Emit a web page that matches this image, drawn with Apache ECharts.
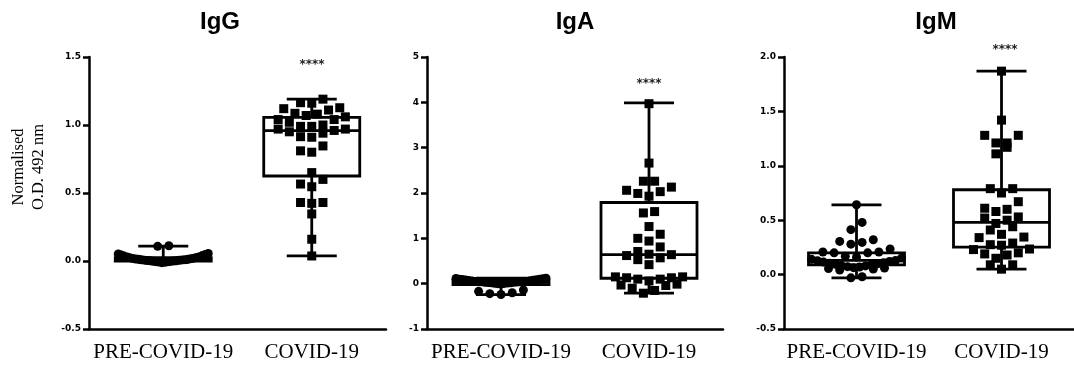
<!DOCTYPE html>
<html>
<head>
<meta charset="utf-8">
<script src="https://cdn.jsdelivr.net/npm/echarts@6/dist/echarts.min.js"></script>
<style>html,body{margin:0;padding:0;background:#fff}#c{width:1074px;height:370px}</style>
</head>
<body>
<div id="c"></div>
<script>
// ---------- DATA ----------
const categories = ['PRE-COVID-19', 'COVID-19'];
const panelTitles = ['IgG', 'IgA', 'IgM'];
const yAxisName = 'Normalised\nO.D. 492 nm';
const sigLabel = '****';

// axis ranges [min, max, interval]
const igG_axis = [-0.5, 1.5, 0.5];
const igA_axis = [-1, 5, 1];
const igM_axis = [-0.5, 2.0, 0.5];

// box stats [min, Q1, median, Q3, max]
const igG_pre_box = [-0.012, 0.0, 0.01, 0.025, 0.11];
const igG_covid_box = [0.037, 0.625, 0.958, 1.056, 1.19];
const igA_pre_box = [-0.24, -0.02, 0.03, 0.07, 0.12];
const igA_covid_box = [-0.21, 0.12, 0.64, 1.79, 3.99];
const igM_pre_box = [-0.03, 0.09, 0.13, 0.2, 0.64];
const igM_covid_box = [0.05, 0.253, 0.48, 0.78, 1.87];

// individual values
const igG_pre = [-0.012, -0.01, -0.008, -0.006, -0.005, -0.003, -0.002, 0.0, 0.001, 0.002, 0.004, 0.005,
  0.006, 0.008, 0.009, 0.01, 0.012, 0.013, 0.015, 0.017, 0.019, 0.021, 0.023, 0.026, 0.029, 0.032,
  0.036, 0.04, 0.044, 0.048, 0.052, 0.055, 0.112, 0.108];
const igG_covid = [1.164, 1.127, 1.11, 1.12, 1.16, 1.19, 1.086, 1.07, 1.04, 1.02, 1.0, 1.04, 1.06, 1.08,
  0.99, 0.97, 0.96, 0.94, 0.91, 0.914, 0.95, 0.97, 0.99, 0.846, 0.81, 0.80, 0.65, 0.60, 0.566, 0.546,
  0.43, 0.424, 0.43, 0.346, 0.16, 0.037];
const igA_pre = [-0.24, -0.22, -0.2, -0.17, -0.14, -0.01, 0.0, 0.005, 0.01, 0.015, 0.02, 0.02, 0.025, 0.03,
  0.03, 0.035, 0.04, 0.04, 0.045, 0.05, 0.05, 0.055, 0.06, 0.065, 0.07, 0.075, 0.08, 0.085, 0.09, 0.095,
  0.1, 0.11, 0.115, 0.12];
const igA_covid = [3.97, 2.66, 2.26, 2.26, 2.13, 2.03, 1.93, 1.99, 2.06, 1.59, 1.56, 1.26, 1.0, 1.09, 0.94,
  0.81, 0.64, 0.57, 0.71, 0.53, 0.62, 0.65, 0.42, 0.06, 0.13, 0.15, 0.10, 0.10, 0.15, 0.13, -0.03, -0.10,
  -0.21, -0.15, -0.04, -0.01];
const igM_pre = [0.642, 0.48, 0.413, 0.32, 0.305, 0.296, 0.28, 0.236, 0.208, 0.208, 0.2, 0.2, 0.168,
  -0.03, -0.02, 0.042, 0.051, 0.055, 0.06, 0.064, 0.07, 0.073, 0.08, 0.083, 0.09, 0.094, 0.1, 0.104, 0.11,
  0.115, 0.12, 0.127, 0.13, 0.14, 0.152, 0.16];
const igM_covid = [1.87, 1.42, 1.28, 1.28, 1.21, 1.21, 1.17, 1.11, 0.79, 0.75, 0.79, 0.67, 0.61, 0.58, 0.60,
  0.53, 0.50, 0.52, 0.44, 0.47, 0.37, 0.34, 0.345, 0.41, 0.29, 0.27, 0.275, 0.23, 0.235, 0.19, 0.18, 0.2,
  0.15, 0.09, 0.05, 0.09];

// ---------- LAYOUT ----------
const GRIDS = [
  {left: 89, top: 57, width: 297, height: 272},
  {left: 427, top: 57, width: 296, height: 272},
  {left: 784, top: 57, width: 294, height: 272}
];
const TITLE_X = [220, 575, 936];
const BOX_W = 96, CAP_W = 50, SYM = 9, STEP = 11.2, BIN = 10, MAXSPAN = 90;

const panels = [
  {axis: igG_axis, pre: igG_pre, covid: igG_covid, boxes: [igG_pre_box, igG_covid_box], dec: 1},
  {axis: igA_axis, pre: igA_pre, covid: igA_covid, boxes: [igA_pre_box, igA_covid_box], dec: 0},
  {axis: igM_axis, pre: igM_pre, covid: igM_covid, boxes: [igM_pre_box, igM_covid_box], dec: 1}
];

// Prism-like column scatter layout: bin by value, spread center-out
function swarm(vals, ppu) {
  const idx = vals.map((v, i) => i).sort((a, b) => vals[a] - vals[b]);
  const off = new Array(vals.length).fill(0);
  let i = 0;
  while (i < idx.length) {
    const start = vals[idx[i]];
    let j = i;
    while (j < idx.length && (vals[idx[j]] - start) * ppu < BIN) j++;
    const row = idx.slice(i, j), n = row.length;
    let step = STEP;
    if (n > 1 && (n - 1) * step > MAXSPAN) step = MAXSPAN / (n - 1);
    row.forEach((id, k) => {
      let slot;
      if (n % 2 === 1) slot = k === 0 ? 0 : (k % 2 === 1 ? -Math.ceil(k / 2) : Math.ceil(k / 2));
      else { const m = Math.floor(k / 2) + 0.5; slot = k % 2 === 0 ? -m : m; }
      off[id] = slot * step;
    });
    i = j;
  }
  return off;
}

const black = '#000';
const tickFont = {fontFamily: 'DejaVu Sans', fontWeight: 'bold', fontSize: 9, color: black};

const grid = [], xAxis = [], yAxis = [], series = [], graphic = [];
panels.forEach((p, gi) => {
  const g = GRIDS[gi];
  grid.push(Object.assign({containLabel: false}, g));
  xAxis.push({
    type: 'category', gridIndex: gi, data: categories, boundaryGap: true,
    axisLine: {onZero: false, lineStyle: {color: black, width: 2.5}},
    axisTick: {alignWithLabel: true, interval: 0, length: 6, lineStyle: {color: black, width: 2.5}},
    axisLabel: {interval: 0, margin: 13, fontFamily: 'Liberation Serif', fontSize: 21, color: black}
  });
  yAxis.push({
    type: 'value', gridIndex: gi, min: p.axis[0], max: p.axis[1], interval: p.axis[2],
    axisLine: {show: true, onZero: false, lineStyle: {color: black, width: 2.5}},
    axisTick: {show: true, length: 6, lineStyle: {color: black, width: 2.5}},
    splitLine: {show: false},
    axisLabel: Object.assign({margin: 8, formatter: v => v.toFixed(p.dec)}, tickFont)
  });
  const ppu = g.height / (p.axis[1] - p.axis[0]);
  // box & whiskers
  series.push({
    type: 'custom', xAxisIndex: gi, yAxisIndex: gi, clip: false, z: 2,
    data: p.boxes.map((b, ci) => [ci].concat(b)),
    encode: {x: 0, y: [1, 2, 3, 4, 5]},
    renderItem: function (params, api) {
      const c = api.value(0);
      const x = api.coord([c, 0])[0];
      const ys = [1, 2, 3, 4, 5].map(d => api.coord([c, api.value(d)])[1]);
      const st = {stroke: black, lineWidth: 2.8, fill: null};
      return {type: 'group', children: [
        {type: 'line', shape: {x1: x, y1: ys[0], x2: x, y2: ys[1]}, style: st},
        {type: 'line', shape: {x1: x, y1: ys[3], x2: x, y2: ys[4]}, style: st},
        {type: 'line', shape: {x1: x - CAP_W / 2, y1: ys[0], x2: x + CAP_W / 2, y2: ys[0]}, style: st},
        {type: 'line', shape: {x1: x - CAP_W / 2, y1: ys[4], x2: x + CAP_W / 2, y2: ys[4]}, style: st},
        {type: 'rect', shape: {x: x - BOX_W / 2, y: ys[3], width: BOX_W, height: ys[1] - ys[3]}, style: st},
        {type: 'line', shape: {x1: x - BOX_W / 2, y1: ys[2], x2: x + BOX_W / 2, y2: ys[2]}, style: st}
      ]};
    }
  });
  // points
  [[p.pre, 0, 'circle'], [p.covid, 1, 'rect']].forEach(([vals, ci, sym]) => {
    const off = swarm(vals, ppu);
    series.push({
      type: 'scatter', xAxisIndex: gi, yAxisIndex: gi, clip: false, z: 3,
      symbol: sym, symbolSize: SYM, itemStyle: {color: black, opacity: 1},
      data: vals.map((v, k) => ({value: [ci, v], symbolOffset: [off[k], 0]})),
      silent: true
    });
  });
  graphic.push({
    type: 'text', style: {text: panelTitles[gi], x: TITLE_X[gi], y: 22, align: 'center', verticalAlign: 'middle',
      font: 'bold 24px "Liberation Sans", Arial, sans-serif', fill: black}
  });
});

// significance asterisks (annotation text)
const SIG_POS = [[312, 65], [649, 84], [1005, 50]];
SIG_POS.forEach(([x, y]) => graphic.push({
  type: 'text', style: {text: sigLabel, x: x, y: y, align: 'center', verticalAlign: 'middle',
    font: 'bold 12px "DejaVu Sans", sans-serif', fill: '#222'}
}));
graphic.push({
  type: 'text', rotation: Math.PI / 2, x: 29, y: 167,
  style: {text: yAxisName, x: 0, y: 0, align: 'center', verticalAlign: 'middle', lineHeight: 20,
    font: '16.5px "Liberation Serif", "Times New Roman", serif', fill: black}
});

const chart = echarts.init(document.getElementById('c'), null, {renderer: 'canvas'});
chart.setOption({animation: false, backgroundColor: '#fff', grid, xAxis, yAxis, series, graphic});
</script>
</body>
</html>
